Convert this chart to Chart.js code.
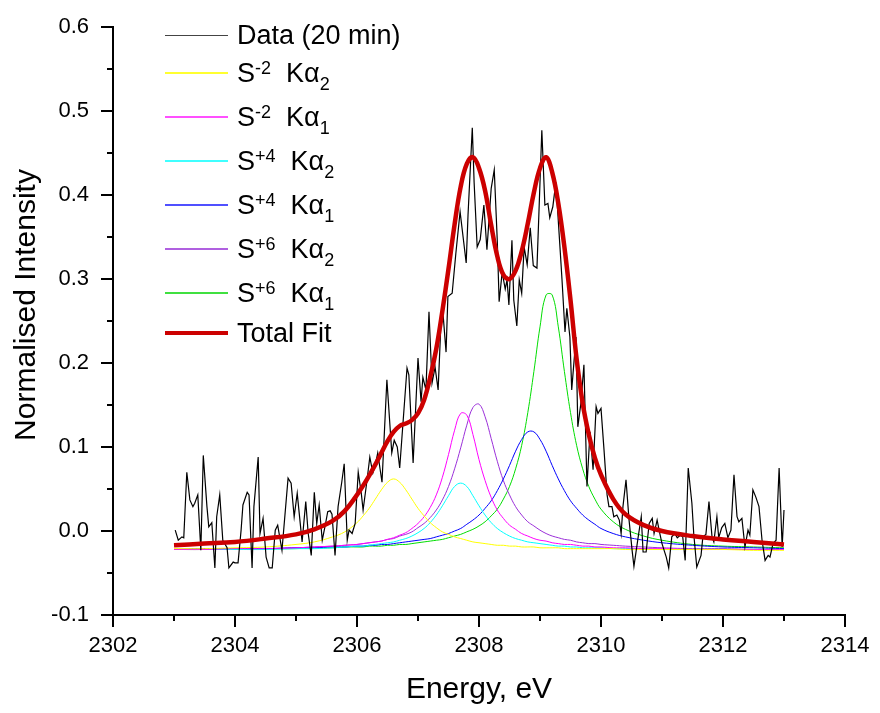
<!DOCTYPE html>
<html>
<head>
<meta charset="utf-8">
<script src="https://cdn.jsdelivr.net/npm/chart.js@4/dist/chart.umd.min.js"></script>
<style>
  body { margin: 0; background: #fff; }
  #wrap { position: relative; width: 880px; height: 713px; }
  #legend { position: absolute; left: 0; top: 0; font: 27px 'Liberation Sans', Arial, sans-serif; color: #000; }
  .row { position: absolute; left: 165px; height: 27px; line-height: 27px; white-space: nowrap; }
  .sw { position: absolute; left: 0; width: 63px; display: block; }
  .tx { position: absolute; left: 72px; top: 0; }
  .tx sup, .tx sub { font-size: 18px; vertical-align: baseline; position: relative; }
  .tx sup { top: -8px; }
  .tx sub { top: 8px; }
</style>
</head>
<body>
<div id="wrap">
  <canvas id="chart" width="880" height="713"></canvas>
  <div id="legend">
    <div class="row" style="top:22px"><span class="sw" style="top:13px;height:1px;background:#444"></span><span class="tx">Data (20 min)</span></div>
    <div class="row" style="top:60px"><span class="sw" style="top:12px;height:2px;background:#ffff30"></span><span class="tx">S<sup>-2</sup>&nbsp; Kα<sub>2</sub></span></div>
    <div class="row" style="top:104px"><span class="sw" style="top:12px;height:2px;background:#ff50ff"></span><span class="tx">S<sup>-2</sup>&nbsp; Kα<sub>1</sub></span></div>
    <div class="row" style="top:148px"><span class="sw" style="top:12px;height:2px;background:#40ffff"></span><span class="tx">S<sup>+4</sup>&nbsp; Kα<sub>2</sub></span></div>
    <div class="row" style="top:192px"><span class="sw" style="top:12px;height:2px;background:#5050ff"></span><span class="tx">S<sup>+4</sup>&nbsp; Kα<sub>1</sub></span></div>
    <div class="row" style="top:236px"><span class="sw" style="top:12px;height:2px;background:#b060e0"></span><span class="tx">S<sup>+6</sup>&nbsp; Kα<sub>2</sub></span></div>
    <div class="row" style="top:280px"><span class="sw" style="top:12px;height:2px;background:#40e040"></span><span class="tx">S<sup>+6</sup>&nbsp; Kα<sub>1</sub></span></div>
    <div class="row" style="top:320px"><span class="sw" style="top:11px;height:4px;background:#cc0000"></span><span class="tx">Total Fit</span></div>
  </div>
</div>
<script>
// measured spectrum (20 min)
const dataE = [
  2303.02, 2303.07, 2303.13, 2303.16, 2303.21, 2303.26, 2303.31, 2303.34, 2303.39, 2303.44,
  2303.48, 2303.54, 2303.57, 2303.62, 2303.67, 2303.70, 2303.75, 2303.80, 2303.87, 2303.90,
  2303.97, 2304.00, 2304.05, 2304.10, 2304.13, 2304.20, 2304.23, 2304.28, 2304.31, 2304.38,
  2304.41, 2304.46, 2304.51, 2304.56, 2304.61, 2304.66, 2304.70, 2304.77, 2304.87, 2304.92,
  2304.97, 2305.02, 2305.05, 2305.10, 2305.16, 2305.20, 2305.25, 2305.30, 2305.34, 2305.38,
  2305.43, 2305.48, 2305.52, 2305.56, 2305.59, 2305.64, 2305.69, 2305.75, 2305.79, 2305.84,
  2305.87, 2305.92, 2305.97, 2306.02, 2306.07, 2306.10, 2306.16, 2306.21, 2306.26, 2306.30,
  2306.34, 2306.41, 2306.49, 2306.57, 2306.61, 2306.66, 2306.70, 2306.82, 2306.85, 2306.92,
  2307.00, 2307.05, 2307.08, 2307.13, 2307.18, 2307.23, 2307.28, 2307.33, 2307.38, 2307.41,
  2307.46, 2307.49, 2307.56, 2307.62, 2307.69, 2307.79, 2307.82, 2307.89, 2307.92, 2307.97,
  2308.02, 2308.08, 2308.13, 2308.20, 2308.25, 2308.30, 2308.33, 2308.38, 2308.43, 2308.46,
  2308.49, 2308.54, 2308.57, 2308.62, 2308.66, 2308.70, 2308.74, 2308.79, 2308.84, 2308.89,
  2308.95, 2308.98, 2309.03, 2309.08, 2309.13, 2309.16, 2309.21, 2309.26, 2309.33, 2309.36,
  2309.41, 2309.44, 2309.49, 2309.52, 2309.59, 2309.62, 2309.67, 2309.72, 2309.77, 2309.82,
  2309.87, 2309.92, 2309.95, 2310.00, 2310.05, 2310.10, 2310.13, 2310.18, 2310.21, 2310.26,
  2310.30, 2310.33, 2310.36, 2310.41, 2310.46, 2310.51, 2310.54, 2310.61, 2310.66, 2310.69,
  2310.74, 2310.79, 2310.84, 2310.87, 2310.92, 2310.97, 2311.00, 2311.07, 2311.11, 2311.16,
  2311.21, 2311.25, 2311.30, 2311.34, 2311.38, 2311.43, 2311.49, 2311.52, 2311.57, 2311.64,
  2311.67, 2311.72, 2311.77, 2311.82, 2311.85, 2311.90, 2311.93, 2311.98, 2312.03, 2312.08,
  2312.13, 2312.18, 2312.23, 2312.26, 2312.31, 2312.36, 2312.41, 2312.44, 2312.49, 2312.54,
  2312.59, 2312.64, 2312.69, 2312.74, 2312.77, 2312.82, 2312.87, 2312.92, 2312.97, 2313.00
];
const dataI = [
  0.001, -0.011, -0.007, -0.008, 0.070, 0.037, 0.029, 0.033, 0.043, -0.023,
  0.090, 0.029, 0.005, 0.010, -0.044, 0.017, 0.043, -0.011, -0.020, -0.044,
  -0.037, -0.038, -0.038, 0.001, 0.031, 0.046, 0.043, -0.044, 0.029, 0.088,
  -0.003, 0.015, -0.031, -0.044, -0.044, 0.001, 0.007, -0.023, 0.063, 0.057,
  0.017, 0.045, 0.023, -0.013, 0.035, -0.003, -0.029, 0.046, 0.009, 0.031,
  -0.011, 0.007, 0.023, 0.024, 0.020, -0.029, 0.029, 0.058, 0.080, -0.011,
  0.001, -0.003, 0.009, 0.070, 0.045, 0.025, 0.058, 0.088, 0.069, 0.079,
  0.093, 0.058, 0.180, 0.093, 0.108, 0.100, 0.075, 0.194, 0.186, 0.081,
  0.206, 0.154, 0.183, 0.168, 0.261, 0.176, 0.195, 0.168, 0.254, 0.259,
  0.213, 0.279, 0.283, 0.330, 0.380, 0.319, 0.376, 0.480, 0.415, 0.338,
  0.347, 0.388, 0.335, 0.408, 0.430, 0.345, 0.273, 0.308, 0.288, 0.299,
  0.269, 0.346, 0.275, 0.244, 0.299, 0.283, 0.338, 0.317, 0.361, 0.316,
  0.313, 0.374, 0.477, 0.388, 0.390, 0.373, 0.386, 0.415, 0.335, 0.300,
  0.237, 0.265, 0.231, 0.168, 0.231, 0.124, 0.152, 0.198, 0.053, 0.118,
  0.073, 0.148, 0.140, 0.146, 0.096, 0.043, 0.029, 0.029, 0.017, 0.019,
  0.013, -0.003, 0.029, 0.061, 0.013, -0.023, -0.042, -0.007, 0.017, -0.025,
  -0.025, 0.009, 0.015, -0.003, 0.013, -0.005, -0.015, -0.031, -0.044, -0.007,
  -0.003, -0.008, -0.005, -0.007, -0.035, 0.075, 0.033, -0.003, -0.043, -0.029,
  -0.007, -0.004, 0.035, -0.007, -0.013, 0.017, -0.008, 0.004, 0.009, -0.008,
  0.001, 0.067, 0.017, 0.011, 0.015, -0.019, 0.001, -0.005, 0.049, 0.040,
  0.029, -0.011, -0.035, -0.029, -0.031, -0.015, -0.011, 0.075, -0.019, 0.025
];

// fitted curves, sampled on a shared energy grid
const fitE = [
  2303, 2303.5, 2304, 2304.5, 2305, 2305.3, 2305.6, 2305.8,
  2306.0, 2306.1, 2306.2, 2306.3, 2306.4, 2306.5, 2306.6, 2306.7, 2306.8, 2306.9,
  2307.0, 2307.1, 2307.2, 2307.3, 2307.4, 2307.5, 2307.6, 2307.7, 2307.8, 2307.9,
  2308.0, 2308.1, 2308.2, 2308.3, 2308.4, 2308.5, 2308.6, 2308.7, 2308.8, 2308.9,
  2309.0, 2309.1, 2309.2, 2309.3, 2309.4, 2309.5, 2309.6, 2309.7, 2309.8, 2309.9,
  2310.0, 2310.2, 2310.4, 2310.7, 2311, 2311.5, 2312, 2312.5, 2313
];
const sm2Ka2 = [
  -0.021, -0.021, -0.020, -0.019, -0.016, -0.013, -0.007, -0.001,
  0.010, 0.018, 0.027, 0.038, 0.049, 0.058, 0.062, 0.058, 0.049, 0.038,
  0.027, 0.018, 0.010, 0.004, -0.001, -0.004, -0.007, -0.009, -0.011, -0.013,
  -0.014, -0.015, -0.016, -0.017, -0.017, -0.018, -0.018, -0.019, -0.019, -0.019,
  -0.020, -0.020, -0.020, -0.020, -0.021, -0.021, -0.021, -0.021, -0.021, -0.021,
  -0.021, -0.021, -0.022, -0.022, -0.022, -0.022, -0.022, -0.023, -0.023
];
const sm2Ka1 = [
  -0.022, -0.022, -0.021, -0.021, -0.020, -0.019, -0.018, -0.017,
  -0.016, -0.015, -0.014, -0.013, -0.012, -0.010, -0.008, -0.005, -0.002, 0.003,
  0.009, 0.017, 0.028, 0.043, 0.064, 0.091, 0.120, 0.140, 0.138, 0.115,
  0.085, 0.060, 0.040, 0.025, 0.015, 0.007, 0.002, -0.003, -0.006, -0.009,
  -0.011, -0.012, -0.014, -0.015, -0.016, -0.016, -0.017, -0.018, -0.018, -0.019,
  -0.019, -0.020, -0.020, -0.021, -0.021, -0.022, -0.022, -0.022, -0.022
];
const sp4Ka2 = [
  -0.022, -0.022, -0.022, -0.022, -0.021, -0.021, -0.020, -0.019,
  -0.018, -0.018, -0.017, -0.016, -0.015, -0.014, -0.013, -0.011, -0.009, -0.006,
  -0.002, 0.003, 0.010, 0.019, 0.030, 0.042, 0.053, 0.057, 0.053, 0.042,
  0.030, 0.019, 0.010, 0.003, -0.002, -0.006, -0.009, -0.011, -0.013, -0.014,
  -0.015, -0.016, -0.017, -0.018, -0.018, -0.019, -0.019, -0.020, -0.020, -0.020,
  -0.020, -0.021, -0.021, -0.021, -0.022, -0.022, -0.022, -0.022, -0.022
];
const sp4Ka1 = [
  -0.022, -0.021, -0.021, -0.021, -0.020, -0.020, -0.019, -0.019,
  -0.018, -0.018, -0.017, -0.017, -0.016, -0.016, -0.015, -0.014, -0.013, -0.012,
  -0.011, -0.010, -0.009, -0.007, -0.005, -0.003, 0.000, 0.003, 0.008, 0.013,
  0.019, 0.027, 0.036, 0.048, 0.062, 0.078, 0.095, 0.109, 0.118, 0.118,
  0.109, 0.095, 0.078, 0.062, 0.048, 0.036, 0.027, 0.019, 0.013, 0.008,
  0.003, -0.003, -0.007, -0.011, -0.014, -0.017, -0.019, -0.020, -0.021
];
const sp6Ka2 = [
  -0.022, -0.021, -0.021, -0.021, -0.020, -0.019, -0.018, -0.017,
  -0.016, -0.015, -0.014, -0.013, -0.012, -0.010, -0.009, -0.006, -0.004, -0.001,
  0.004, 0.009, 0.016, 0.025, 0.037, 0.053, 0.074, 0.099, 0.126, 0.147,
  0.151, 0.136, 0.110, 0.083, 0.060, 0.043, 0.029, 0.019, 0.011, 0.006,
  0.001, -0.003, -0.006, -0.008, -0.010, -0.011, -0.013, -0.014, -0.015, -0.015,
  -0.016, -0.017, -0.018, -0.019, -0.020, -0.021, -0.021, -0.022, -0.022
];
const sp6Ka1 = [
  -0.022, -0.022, -0.021, -0.021, -0.021, -0.020, -0.020, -0.019,
  -0.019, -0.019, -0.018, -0.018, -0.018, -0.017, -0.017, -0.016, -0.016, -0.015,
  -0.014, -0.013, -0.012, -0.011, -0.010, -0.008, -0.006, -0.004, -0.001, 0.002,
  0.006, 0.011, 0.018, 0.026, 0.038, 0.053, 0.074, 0.102, 0.141, 0.190,
  0.243, 0.281, 0.281, 0.243, 0.190, 0.141, 0.102, 0.074, 0.053, 0.038,
  0.026, 0.011, 0.002, -0.006, -0.011, -0.016, -0.018, -0.019, -0.020
];
const totalFit = [
  -0.017, -0.015, -0.013, -0.009, -0.004, 0.002, 0.012, 0.024,
  0.043, 0.054, 0.066, 0.079, 0.093, 0.107, 0.118, 0.125, 0.128, 0.132,
  0.140, 0.156, 0.183, 0.217, 0.262, 0.312, 0.365, 0.410, 0.437, 0.445,
  0.432, 0.405, 0.364, 0.327, 0.305, 0.300, 0.310, 0.333, 0.366, 0.403,
  0.432, 0.445, 0.427, 0.390, 0.338, 0.275, 0.205, 0.152, 0.115, 0.087,
  0.067, 0.038, 0.020, 0.007, 0.000, -0.006, -0.010, -0.013, -0.016
];

const xTicksMinor = [2303, 2305, 2307, 2309, 2311, 2313];
const yTicksMinor = [-0.05, 0.05, 0.15, 0.25, 0.35, 0.45, 0.55];

const FONT = "'Liberation Sans', Arial, sans-serif";
const pts = (xs, ys) => xs.map((x, i) => ({ x, y: ys[i] }));

function component(label, data, color) {
  return {
    label, data: pts(fitE, data),
    borderColor: color, borderWidth: 1, pointRadius: 0, tension: 0.4, order: 2,
  };
}

// short outward minor ticks between the labelled ones
const minorTicks = {
  id: 'minorTicks',
  afterDraw(chart) {
    const { ctx, scales: { x, y }, chartArea } = chart;
    ctx.save();
    ctx.strokeStyle = '#000';
    ctx.lineWidth = 2;
    ctx.beginPath();
    xTicksMinor.forEach(v => {
      const px = Math.round(x.getPixelForValue(v));
      ctx.moveTo(px, chartArea.bottom);
      ctx.lineTo(px, chartArea.bottom + 6);
    });
    yTicksMinor.forEach(v => {
      const py = Math.round(y.getPixelForValue(v));
      ctx.moveTo(chartArea.left, py);
      ctx.lineTo(chartArea.left - 6, py);
    });
    ctx.stroke();
    ctx.restore();
  }
};

const yTitle = {
  id: 'yTitle',
  afterDraw(chart) {
    const { ctx, chartArea } = chart;
    ctx.save();
    ctx.translate(27, (chartArea.top + chartArea.bottom) / 2 - 16);
    ctx.rotate(-Math.PI / 2);
    ctx.font = '30px ' + FONT;
    ctx.fillStyle = '#000';
    ctx.textAlign = 'center';
    ctx.textBaseline = 'middle';
    ctx.fillText('Normalised Intensity', 0, 0);
    ctx.restore();
  }
};

new Chart(document.getElementById('chart'), {
  type: 'line',
  data: {
    datasets: [
      { label: 'Data (20 min)', data: pts(dataE, dataI), borderColor: '#000', borderWidth: 1.2, pointRadius: 0, tension: 0, order: 1 },
      component('S-2 Ka2', sm2Ka2, '#ffff00'),
      component('S-2 Ka1', sm2Ka1, '#ff00ff'),
      component('S+4 Ka2', sp4Ka2, '#00ffff'),
      component('S+4 Ka1', sp4Ka1, '#0000ff'),
      component('S+6 Ka2', sp6Ka2, '#9b30d9'),
      component('S+6 Ka1', sp6Ka1, '#00dd00'),
      { label: 'Total Fit', data: pts(fitE, totalFit), borderColor: '#cc0000', borderWidth: 4.5, pointRadius: 0, tension: 0.4, order: 0 },
    ],
  },
  options: {
    responsive: false,
    animation: false,
    devicePixelRatio: 1,
    layout: { padding: { top: 27, right: 35, left: 0, bottom: 0 } },
    plugins: { legend: { display: false }, tooltip: { enabled: false } },
    scales: {
      x: {
        type: 'linear',
        min: 2302, max: 2314,
        afterFit: s => { s.height = 98; },
        border: { color: '#000', width: 2 },
        grid: { drawOnChartArea: false, color: '#000', lineWidth: 2, tickLength: 12 },
        ticks: { stepSize: 2, color: '#000', padding: 6, font: { family: FONT, size: 22 }, callback: v => String(v) },
        title: { display: true, text: 'Energy, eV', color: '#000', padding: { top: 0, bottom: 5 }, font: { family: FONT, size: 30 } },
      },
      y: {
        min: -0.1, max: 0.6,
        afterFit: s => { s.width = 113; },
        border: { color: '#000', width: 2 },
        grid: { drawOnChartArea: false, color: '#000', lineWidth: 2, tickLength: 12 },
        ticks: {
          stepSize: 0.1, color: '#000', padding: 12, font: { family: FONT, size: 22 },
          callback: v => (Math.abs(v) < 1e-9 ? 0 : v).toFixed(1),
        },
      },
    },
  },
  plugins: [minorTicks, yTitle],
});
</script>
</body>
</html>
